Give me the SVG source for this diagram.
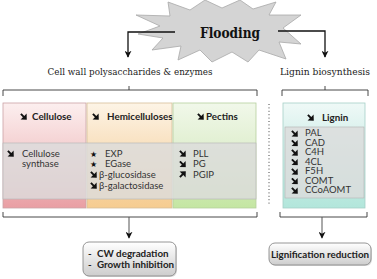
<svg xmlns="http://www.w3.org/2000/svg" xmlns:xlink="http://www.w3.org/1999/xlink" width="377" height="279" viewBox="0 0 377 279">
  <defs>
    <linearGradient id="gCell" x1="0" y1="0" x2="0" y2="1">
      <stop offset="0" stop-color="#fcefef"/>
      <stop offset="0.38" stop-color="#f5d3d4"/>
      <stop offset="1" stop-color="#e99ea3"/>
    </linearGradient>
    <linearGradient id="gHemi" x1="0" y1="0" x2="0" y2="1">
      <stop offset="0" stop-color="#fdf4e6"/>
      <stop offset="0.38" stop-color="#f9e2c2"/>
      <stop offset="1" stop-color="#f6cc90"/>
    </linearGradient>
    <linearGradient id="gPect" x1="0" y1="0" x2="0" y2="1">
      <stop offset="0" stop-color="#f1f8ea"/>
      <stop offset="0.38" stop-color="#e2f0d3"/>
      <stop offset="1" stop-color="#c4e6a2"/>
    </linearGradient>
    <linearGradient id="gLig" x1="0" y1="0" x2="0" y2="1">
      <stop offset="0" stop-color="#eff9f7"/>
      <stop offset="0.23" stop-color="#def3ef"/>
      <stop offset="1" stop-color="#b2e6db"/>
    </linearGradient>
    <linearGradient id="gOut" x1="0" y1="0" x2="0" y2="1">
      <stop offset="0" stop-color="#ffffff"/>
      <stop offset="1" stop-color="#cdcdcd"/>
    </linearGradient>
    <marker id="arrow" viewBox="0 0 10 10" refX="9" refY="5" markerWidth="7" markerHeight="7" orient="auto" markerUnits="userSpaceOnUse">
      <path d="M0,0 L10,5 L0,10 L3,5 Z" fill="#111"/>
    </marker>
    <!-- heavy diagonal arrows: down (decrease) and up (increase) -->
    <symbol id="se" viewBox="0 0 7 7" width="7" height="7">
      <path d="M0.2,1.6 L1.6,0.2 L4.3,2.9 L6.6,0.6 L6.8,6.8 L0.6,6.6 L2.9,4.3 Z" fill="#111"/>
    </symbol>
    <symbol id="ne" viewBox="0 0 7 7" width="7" height="7">
      <path d="M0.2,5.4 L1.6,6.8 L4.3,4.1 L6.6,6.4 L6.8,0.2 L0.6,0.4 L2.9,2.7 Z" fill="#111"/>
    </symbol>
    <style>
      .col { stroke-width: 0.8; }
      .body { fill: #dcdcdc; fill-opacity: 0.82; stroke: #b9b9b9; stroke-width: 0.7; }
      .hdr { font-family: Lato, "Open Sans", "DejaVu Sans", sans-serif; font-weight: bold; font-size: 9.8px; fill: #222; }
      .txt { font-family: Lato, "Open Sans", "DejaVu Sans", sans-serif; font-size: 9.5px; fill: #333; }
      .sym { font-family: "DejaVu Sans", sans-serif; font-size: 8px; fill: #111; }
      .cap { font-family: "DejaVu Serif", "Liberation Serif", serif; font-size: 9px; fill: #222; }
      .brace { fill: none; stroke: #333; stroke-width: 0.9; }
      .flow { fill: none; stroke: #111; stroke-width: 1.3; }
      .down { fill: none; stroke: #555; stroke-width: 1; }
      .outbox { fill: url(#gOut); stroke: #8a8a8a; stroke-width: 0.9; }
      .outtxt { font-family: Lato, "Open Sans", "DejaVu Sans", sans-serif; font-weight: bold; font-size: 9.8px; fill: #222; }
    </style>
  </defs>

  <rect width="377" height="279" fill="#ffffff"/>

  <!-- starburst with the trigger -->
  <g id="flooding">
    <polygon points="168,2 190,10 205,0 222,8 240,0 253,9 276,2 269,15 301,15 283,28 301,44 279,42 286,59 259,50 248,62 232,52 212,62 200,50 178,60 181,46 152,50 163,38 138,34 160,26 136,15 170,16"
             fill="#d4d4d4" stroke="#a8a8a8" stroke-width="0.8"/>
    <text x="230" y="38" text-anchor="middle" font-family="'DejaVu Serif', serif" font-weight="bold" font-size="15" textLength="60" lengthAdjust="spacingAndGlyphs" fill="#111">Flooding</text>
  </g>

  <g id="labels">
    <text class="cap" x="130" y="75" text-anchor="middle" textLength="165" lengthAdjust="spacingAndGlyphs">Cell wall polysaccharides &amp; enzymes</text>
    <text class="cap" x="325" y="75" text-anchor="middle" textLength="90" lengthAdjust="spacingAndGlyphs">Lignin biosynthesis</text>
  </g>

  <!-- cell wall polysaccharide columns -->
  <g id="cellulose">
    <rect class="col" x="3" y="103" width="83" height="105" fill="url(#gCell)" stroke="#caa2a5"/>
    <use xlink:href="#se" href="#se" x="20" y="113"/>
    <text class="hdr" x="32" y="120">Cellulose</text>
  </g>
  <g id="hemicelluloses">
    <rect class="col" x="87" y="103" width="85" height="105" fill="url(#gHemi)" stroke="#d6bf9a"/>
    <use xlink:href="#se" href="#se" x="92" y="113"/>
    <text class="hdr" x="107" y="120">Hemicelluloses</text>
  </g>
  <g id="pectins">
    <rect class="col" x="173" y="103" width="83" height="105" fill="url(#gPect)" stroke="#b6cf9e"/>
    <use xlink:href="#se" href="#se" x="197" y="113"/>
    <text class="hdr" x="206" y="120">Pectins</text>
  </g>

  <g id="enzymes">
    <rect class="body" x="3" y="143" width="253" height="56"/>
    <use xlink:href="#se" href="#se" x="7" y="150"/>
    <text class="txt" x="22" y="156.5">Cellulose</text>
    <text class="txt" x="22" y="167">synthase</text>

    <text class="sym" x="90" y="156.5">★</text>
    <text class="txt" x="105" y="156.5">EXP</text>
    <text class="sym" x="90" y="167">★</text>
    <text class="txt" x="105" y="167">EGase</text>
    <use xlink:href="#se" href="#se" x="90" y="171"/>
    <text class="txt" x="99" y="177.5">β-glucosidase</text>
    <use xlink:href="#se" href="#se" x="90" y="182"/>
    <text class="txt" x="99" y="188.5">β-galactosidase</text>

    <use xlink:href="#se" href="#se" x="179" y="150"/>
    <text class="txt" x="193" y="156.5">PLL</text>
    <use xlink:href="#se" href="#se" x="179" y="160.5"/>
    <text class="txt" x="193" y="167">PG</text>
    <use xlink:href="#ne" href="#ne" x="179" y="171"/>
    <text class="txt" x="193" y="177.5">PGIP</text>
  </g>

  <!-- lignin column -->
  <g id="lignin">
    <rect class="col" x="283" y="103" width="82" height="105" fill="url(#gLig)" stroke="#a6cfc7"/>
    <use xlink:href="#se" href="#se" x="307" y="114"/>
    <text class="hdr" x="322" y="121">Lignin</text>
    <rect class="body" x="285" y="127" width="79" height="71"/>
    <use xlink:href="#se" href="#se" x="291" y="130"/><text class="txt" x="305" y="136">PAL</text>
    <use xlink:href="#se" href="#se" x="291" y="139.5"/><text class="txt" x="305" y="145.5">CAD</text>
    <use xlink:href="#se" href="#se" x="291" y="149"/><text class="txt" x="305" y="155">C4H</text>
    <use xlink:href="#se" href="#se" x="291" y="158.5"/><text class="txt" x="305" y="164.5">4CL</text>
    <use xlink:href="#se" href="#se" x="291" y="168"/><text class="txt" x="305" y="174">F5H</text>
    <use xlink:href="#se" href="#se" x="291" y="177.5"/><text class="txt" x="305" y="183.5">COMT</text>
    <use xlink:href="#se" href="#se" x="291" y="187"/><text class="txt" x="305" y="193">CCoAOMT</text>
  </g>

  <!-- outcomes -->
  <g id="cw-outcome">
    <rect x="84" y="243" width="93" height="34" rx="6" fill="#bdbdbd" opacity="0.5"/>
    <rect class="outbox" x="83" y="242" width="93" height="34" rx="6"/>
    <text class="outtxt" x="88" y="257">-</text>
    <text class="outtxt" x="97" y="257">CW degradation</text>
    <text class="outtxt" x="88" y="268">-</text>
    <text class="outtxt" x="97" y="268">Growth inhibition</text>
  </g>
  <g id="lignin-outcome">
    <rect x="270" y="244" width="102" height="22" rx="6" fill="#bdbdbd" opacity="0.5"/>
    <rect class="outbox" x="269" y="243" width="102" height="22" rx="6"/>
    <text class="outtxt" x="320" y="257.5" text-anchor="middle">Lignification reduction</text>
  </g>

  <!-- connectors -->
  <g id="connectors">
    <polyline class="flow" points="175,32 128,32 128,57" marker-end="url(#arrow)"/>
    <polyline class="flow" points="278,31 325,31 325,57" marker-end="url(#arrow)"/>

    <path class="brace" d="M3,96 V90 H257 V96 M129,90 V86"/>
    <path class="brace" d="M282,96 V90 H368 V96 M325,90 V86"/>

    <line x1="269" y1="104" x2="269" y2="206" stroke="#444" stroke-width="1" stroke-dasharray="1 2.4"/>

    <path class="brace" d="M3,212 V217 H257 V212"/>
    <path class="brace" d="M280,212 V217 H367 V212"/>
    <line class="down" x1="129" y1="217" x2="129" y2="238" marker-end="url(#arrow)"/>
    <line class="down" x1="322" y1="217" x2="322" y2="238" marker-end="url(#arrow)"/>
  </g>
</svg>
